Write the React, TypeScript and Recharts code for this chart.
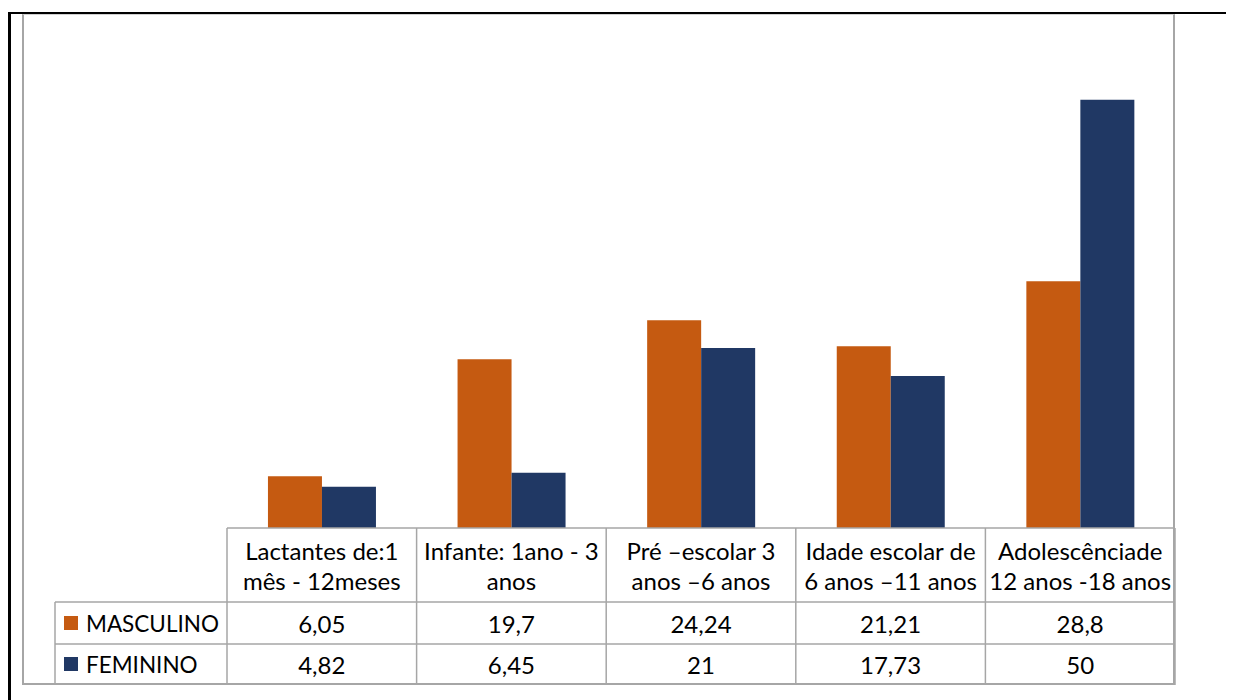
import { BarChart, Bar, XAxis, YAxis } from "recharts";

const categories = [
  "Lactantes de:1\nmês - 12meses",
  "Infante: 1ano - 3\nanos",
  "Pré –escolar 3\nanos –6 anos",
  "Idade escolar de\n6 anos –11 anos",
  "Adolescênciade\n12 anos -18 anos",
];
const masculino = [6.05, 19.7, 24.24, 21.21, 28.8];
const feminino = [4.82, 6.45, 21, 17.73, 50];
const seriesNames = ["MASCULINO", "FEMININO"];
const seriesColors = ["#C55A11", "#203864"];

const data = categories.map((name, i) => ({
  name,
  masculino: masculino[i],
  feminino: feminino[i],
}));

const FONT = "Lato, 'Open Sans', sans-serif";
const GRID = "#a6a6a6";
// layout (svg coords, svg sits at page 8,8)
const PLOT_LEFT = 219;
const PLOT_BOTTOM = 520;
const ROW1 = 594;
const ROW2 = 636;
const TABLE_BOTTOM = 677;
const LEGEND_LEFT = 47;

const fmt = (v: number) => String(v).replace(".", ",");

function TableTick(props: any) {
  const { x, payload, index, visibleTicksCount } = props;
  const band = 948 / categories.length;
  const left = x - band / 2;
  const right = x + band / 2;
  const lines = String(payload.value).split("\n");
  const i = payload.index ?? index;
  const last = i === (visibleTicksCount ?? categories.length) - 1;
  const txt = { fontFamily: FONT, fontSize: 24, fill: "#000" };
  return (
    <g>
      <line x1={left} y1={PLOT_BOTTOM} x2={left} y2={TABLE_BOTTOM} stroke={GRID} strokeWidth={1.5} />
      {last && <line x1={right} y1={PLOT_BOTTOM} x2={right} y2={TABLE_BOTTOM} stroke={GRID} strokeWidth={1.5} />}
      <line x1={left} y1={ROW1} x2={right} y2={ROW1} stroke={GRID} strokeWidth={1.5} />
      <line x1={left} y1={ROW2} x2={right} y2={ROW2} stroke={GRID} strokeWidth={1.5} />
      {lines.map((l, k) => (
        <text key={k} x={x} y={542 + k * 30} textAnchor="middle" dominantBaseline="central" {...txt}>
          {l}
        </text>
      ))}
      <text x={x} y={615} textAnchor="middle" dominantBaseline="central" {...txt}>
        {fmt(masculino[i])}
      </text>
      <text x={x} y={656} textAnchor="middle" dominantBaseline="central" {...txt}>
        {fmt(feminino[i])}
      </text>
      {i === 0 && (
        <g>
          <line x1={LEGEND_LEFT} y1={ROW1} x2={LEGEND_LEFT} y2={TABLE_BOTTOM} stroke={GRID} strokeWidth={1.5} />
          <line x1={LEGEND_LEFT} y1={ROW1} x2={PLOT_LEFT} y2={ROW1} stroke={GRID} strokeWidth={1.5} />
          <line x1={LEGEND_LEFT} y1={ROW2} x2={PLOT_LEFT} y2={ROW2} stroke={GRID} strokeWidth={1.5} />
          {seriesNames.map((s, k) => (
            <g key={s}>
              <rect x={56} y={(k === 0 ? 615 : 656) - 7} width={14} height={14} fill={seriesColors[k]} />
              <text x={78} y={k === 0 ? 615 : 656} dominantBaseline="central" {...txt} fontSize={22.5}>
                {s}
              </text>
            </g>
          ))}
        </g>
      )}
    </g>
  );
}

export default function App() {
  return (
    <div style={{ position: "relative", width: 1226, height: 692 }}>
      <div style={{ position: "absolute", left: 0, top: 4, width: 1226, height: 2, background: "#000" }} />
      <div style={{ position: "absolute", left: 0, top: 4, width: 3, height: 688, background: "#000" }} />
      <div
        style={{
          position: "absolute",
          left: 14,
          top: 6,
          width: 1153,
          height: 671,
          boxSizing: "border-box",
          borderLeft: `2px solid ${GRID}`,
          borderRight: `2px solid ${GRID}`,
          borderBottom: `2px solid ${GRID}`,
          borderTop: `1px solid #d0d0d0`,
        }}
      />
      <div style={{ position: "absolute", left: 0, top: 0 }}>
        <BarChart
          width={1226}
          height={692}
          data={data}
          margin={{ top: 6, right: 59, bottom: 15, left: PLOT_LEFT }}
          barCategoryGap="21.6%"
          barGap={0}
        >
          <XAxis
            dataKey="name"
            height={157}
            interval={0}
            tickLine={false}
            axisLine={{ stroke: GRID, strokeWidth: 1.5 }}
            tick={<TableTick />}
          />
          <YAxis hide domain={[0, 60]} />
          <Bar dataKey="masculino" name={seriesNames[0]} fill={seriesColors[0]} isAnimationActive={false} />
          <Bar dataKey="feminino" name={seriesNames[1]} fill={seriesColors[1]} isAnimationActive={false} />
        </BarChart>
      </div>
    </div>
  );
}
